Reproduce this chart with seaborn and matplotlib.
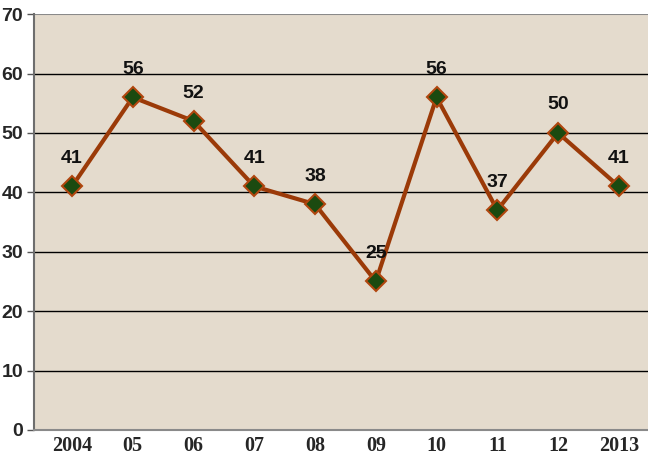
import matplotlib
matplotlib.use("Agg")
import matplotlib.pyplot as plt
import seaborn as sns
import pandas as pd

years = ["2004", "05", "06", "07", "08", "09", "10", "11", "12", "2013"]
values = [41, 56, 52, 41, 38, 25, 56, 37, 50, 41]
yticks = [0, 10, 20, 30, 40, 50, 60, 70]

sns.set_style("white")
plt.rcParams['font.family'] = ['Liberation Sans', 'DejaVu Sans']

df = pd.DataFrame({"pos": range(len(years)), "value": values})

fig = plt.figure(figsize=(6.48, 4.55), dpi=100)
ax = fig.add_axes([0.053, 0.055, 0.947, 0.914])
ax.set_facecolor("#e4dbcd")

for y in yticks[1:-1]:
    ax.axhline(y, color="black", lw=1.0, zorder=1)

sns.lineplot(data=df, x="pos", y="value", ax=ax, color="#9b3a08", lw=3.0,
             marker="D", markersize=10, markerfacecolor="#1b4a10",
             markeredgecolor="#b0460f", markeredgewidth=1.5, zorder=3)

for i, v in enumerate(values):
    ax.annotate(str(v), (i, v), xytext=(0, 14), textcoords="offset points",
                ha="center", va="bottom", fontsize=14, fontweight="bold",
                color="#111111")

ax.set_xlim(-0.62, 9.48)
ax.set_ylim(0, 70)
ax.set_yticks(yticks)
ax.set_yticklabels([str(t) for t in yticks], fontsize=14, fontweight="bold")
ax.set_xticks(range(len(years)))
ax.set_xticklabels(years, fontsize=14.5, fontweight="bold",
                   family=['Liberation Serif', 'DejaVu Serif'])
ax.set_xlabel("")
ax.set_ylabel("")
ax.tick_params(axis="y", length=5, width=1, color="#555555", pad=3, left=True)
ax.tick_params(axis="x", length=0, pad=4)
for s in ["top", "right"]:
    ax.spines[s].set_visible(False)
ax.spines["left"].set_color("#6e6e6e")
ax.spines["left"].set_linewidth(1.5)
ax.spines["bottom"].set_color("#8a8a8a")
ax.spines["bottom"].set_linewidth(1.5)
ax.axhline(70, color="#8a8a8a", lw=1.5, zorder=1)

fig.savefig("out.png", dpi=100)
